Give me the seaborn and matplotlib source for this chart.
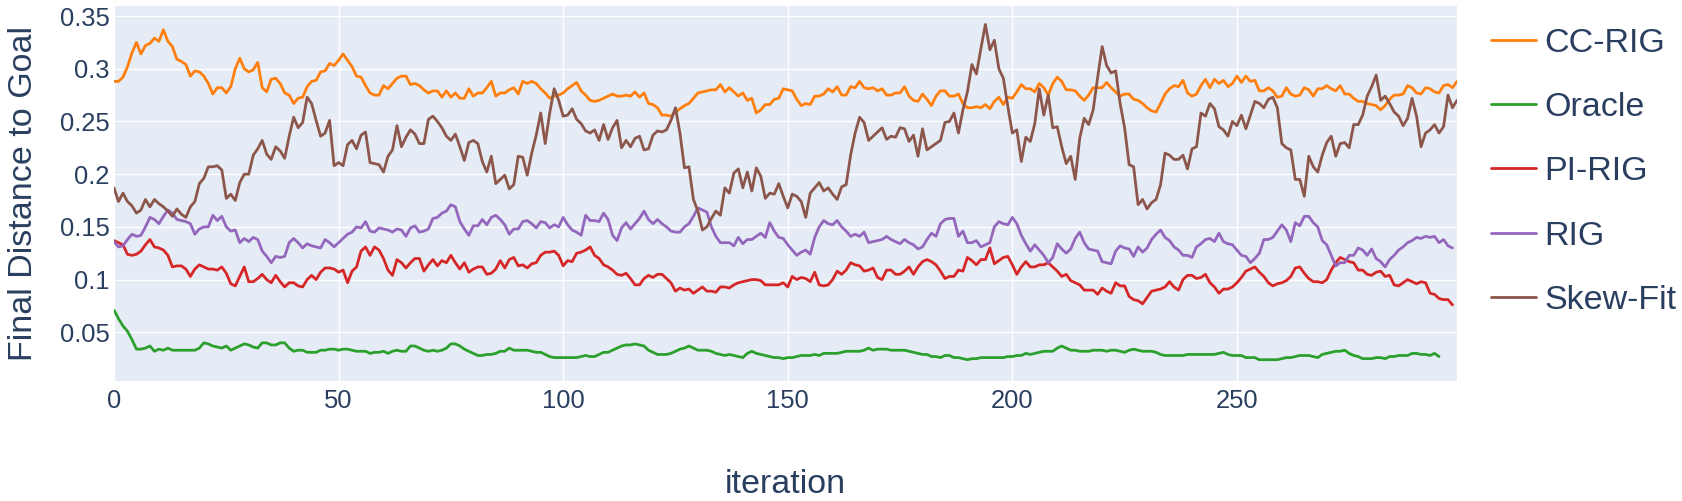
import matplotlib
matplotlib.use("Agg")
import matplotlib.pyplot as plt
import seaborn as sns
import pandas as pd
import numpy as np

# ---------------- data ----------------
cc_rig = [
    0.288,0.288,0.292,0.302,0.315,0.325,0.314,0.322,0.324,0.329,
    0.326,0.337,0.326,0.321,0.309,0.307,0.304,0.293,0.298,0.297,
    0.293,0.286,0.276,0.282,0.282,0.277,0.283,0.300,0.310,0.300,
    0.297,0.299,0.306,0.282,0.278,0.290,0.291,0.286,0.277,0.275,
    0.267,0.272,0.273,0.283,0.288,
    0.289,0.297,0.298,0.305,0.303,0.308,0.314,0.308,0.302,0.293,
    0.292,0.284,0.277,0.275,0.275,0.284,0.281,0.286,0.291,0.293,
    0.293,0.285,0.286,0.284,0.280,0.277,0.279,0.279,0.273,0.279,
    0.273,0.277,0.272,0.272,0.281,0.274,0.277,0.277,0.282,0.288,
    0.274,0.277,0.277,0.280,0.282,0.276,
    0.288,0.286,0.288,0.286,0.281,0.277,0.272,0.274,0.275,0.277,
    0.281,0.284,0.287,0.279,0.275,0.270,0.269,0.270,0.272,0.274,
    0.276,0.274,0.274,0.275,0.274,0.278,0.273,0.277,0.267,0.266,
    0.263,0.256,0.256,0.255,0.259,0.262,0.265,0.267,0.272,0.277,
    0.278,0.279,0.280,0.280,0.285,0.278,
    0.282,0.278,0.274,0.277,0.270,0.272,0.258,0.261,0.266,0.266,
    0.271,0.272,0.281,0.280,0.279,0.271,0.265,0.267,0.266,0.274,
    0.274,0.276,0.281,0.278,0.283,0.275,0.275,0.283,0.282,0.288,
    0.282,0.281,0.282,0.279,0.281,0.275,0.275,0.277,0.277,0.283,
    0.274,0.270,0.269,0.276,0.271,
    0.265,0.274,0.279,0.279,0.274,0.274,0.276,0.267,0.263,0.263,
    0.264,0.263,0.266,0.262,0.269,0.273,0.266,0.273,0.272,0.278,
    0.285,0.281,0.281,0.278,0.286,0.282,0.275,0.286,0.292,0.288,
    0.280,0.280,0.279,0.274,0.270,0.275,0.282,0.282,0.282,0.287,
    0.282,0.278,0.274,0.276,0.276,
    0.271,0.270,0.267,0.263,0.260,0.259,0.267,0.276,0.281,0.284,
    0.283,0.289,0.277,0.274,0.276,0.284,0.290,0.282,0.290,0.286,
    0.289,0.283,0.286,0.293,0.287,0.293,0.288,0.289,0.279,0.279,
    0.282,0.279,0.273,0.274,0.282,0.276,0.274,0.275,0.282,0.280,
    0.274,0.281,0.281,0.284,0.281,0.279,0.284,0.276,0.276,0.272,
    0.269,
    0.269,0.267,0.266,0.265,0.261,0.265,0.271,0.275,0.275,0.276,
    0.284,0.282,0.277,0.276,0.282,0.281,0.278,0.277,0.284,0.285,
    0.282,0.288,
]

oracle = [
    0.071,0.063,0.056,0.051,0.043,0.034,0.034,0.035,0.037,0.032,
    0.034,0.033,0.035,0.033,0.033,0.033,0.033,0.033,0.033,0.035,
    0.040,0.039,0.037,0.036,0.035,0.037,0.033,0.035,0.037,0.039,
    0.038,0.036,0.035,0.040,0.040,0.038,0.038,0.040,0.040,0.035,
    0.032,0.033,0.033,0.031,0.031,
    0.031,0.033,0.033,0.034,0.034,0.033,0.034,0.034,0.033,0.032,
    0.032,0.032,0.030,0.031,0.031,0.032,0.030,0.032,0.033,0.032,
    0.032,0.037,0.037,0.035,0.033,0.032,0.033,0.032,0.033,0.035,
    0.039,0.039,0.037,0.034,0.032,0.030,0.028,0.028,0.029,0.029,
    0.030,0.032,0.032,0.035,0.033,0.033,
    0.033,0.033,0.032,0.031,0.031,0.029,0.027,0.026,0.026,0.026,
    0.026,0.026,0.026,0.027,0.028,0.027,0.027,0.029,0.031,0.031,
    0.033,0.035,0.037,0.038,0.038,0.039,0.038,0.037,0.033,0.031,
    0.029,0.029,0.029,0.030,0.032,0.034,0.035,0.037,0.035,0.033,
    0.033,0.033,0.032,0.030,0.029,0.028,
    0.029,0.028,0.027,0.026,0.030,0.032,0.030,0.029,0.028,0.027,
    0.026,0.026,0.025,0.026,0.026,0.027,0.028,0.028,0.028,0.029,
    0.028,0.030,0.030,0.030,0.030,0.031,0.032,0.032,0.032,0.032,
    0.033,0.035,0.033,0.034,0.034,0.034,0.033,0.033,0.033,0.033,
    0.032,0.031,0.030,0.029,0.029,
    0.027,0.027,0.026,0.028,0.028,0.026,0.026,0.025,0.024,0.025,
    0.025,0.026,0.026,0.026,0.026,0.026,0.026,0.027,0.027,0.028,
    0.028,0.030,0.029,0.030,0.031,0.032,0.032,0.032,0.035,0.037,
    0.035,0.033,0.033,0.032,0.032,0.032,0.033,0.033,0.033,0.032,
    0.033,0.033,0.032,0.031,0.033,
    0.034,0.033,0.032,0.032,0.032,0.031,0.029,0.028,0.028,0.028,
    0.028,0.028,0.029,0.029,0.029,0.029,0.029,0.029,0.029,0.030,
    0.031,0.029,0.028,0.028,0.028,0.026,0.026,0.026,0.024,0.024,
    0.024,0.024,0.024,0.025,0.026,0.026,0.027,0.028,0.028,0.028,
    0.027,0.026,0.029,0.030,0.031,0.032,0.032,0.033,0.030,0.028,
    0.027,
    0.025,0.025,0.025,0.026,0.026,0.025,0.027,0.027,0.028,0.028,
    0.028,0.030,0.030,0.029,0.029,0.028,0.030,0.027,
]

pi_rig = [
    0.137,0.135,0.133,0.124,0.123,0.124,0.127,0.133,0.138,0.131,
    0.130,0.128,0.123,0.112,0.113,0.113,0.110,0.103,0.110,0.114,
    0.112,0.110,0.110,0.109,0.112,0.106,0.096,0.094,0.103,0.112,
    0.098,0.098,0.101,0.105,0.100,0.097,0.104,0.098,0.093,0.097,
    0.097,0.094,0.093,0.100,0.104,
    0.100,0.107,0.111,0.111,0.110,0.107,0.109,0.097,0.108,0.112,
    0.127,0.131,0.123,0.131,0.128,0.120,0.109,0.104,0.119,0.116,
    0.111,0.116,0.120,0.120,0.108,0.114,0.119,0.113,0.118,0.116,
    0.123,0.116,0.110,0.116,0.107,0.110,0.112,0.112,0.105,0.106,
    0.110,0.118,0.111,0.119,0.121,0.113,
    0.114,0.111,0.115,0.116,0.123,0.126,0.126,0.127,0.123,0.113,
    0.118,0.117,0.125,0.126,0.128,0.131,0.123,0.120,0.114,0.112,
    0.109,0.105,0.104,0.106,0.101,0.095,0.095,0.101,0.104,0.102,
    0.105,0.105,0.101,0.097,0.089,0.092,0.090,0.091,0.087,0.090,
    0.093,0.089,0.089,0.088,0.093,0.093,
    0.092,0.095,0.097,0.098,0.099,0.100,0.100,0.099,0.095,0.095,
    0.095,0.095,0.097,0.093,0.103,0.100,0.102,0.101,0.098,0.107,
    0.095,0.094,0.095,0.100,0.108,0.105,0.109,0.116,0.114,0.113,
    0.108,0.109,0.111,0.102,0.100,0.109,0.109,0.105,0.105,0.108,
    0.112,0.105,0.112,0.117,0.119,
    0.117,0.114,0.108,0.101,0.103,0.103,0.109,0.108,0.121,0.118,
    0.114,0.119,0.119,0.130,0.115,0.118,0.121,0.122,0.114,0.105,
    0.112,0.117,0.112,0.112,0.114,0.114,0.116,0.112,0.108,0.103,
    0.105,0.099,0.097,0.095,0.090,0.090,0.090,0.086,0.092,0.089,
    0.087,0.097,0.094,0.094,0.084,
    0.081,0.080,0.077,0.083,0.089,0.090,0.091,0.093,0.098,0.093,
    0.090,0.100,0.104,0.104,0.101,0.102,0.105,0.097,0.093,0.087,
    0.091,0.091,0.093,0.097,0.102,0.108,0.110,0.112,0.107,0.103,
    0.097,0.094,0.096,0.097,0.099,0.103,0.111,0.112,0.106,0.101,
    0.098,0.098,0.097,0.100,0.109,0.116,0.121,0.119,0.117,0.116,
    0.109,
    0.109,0.105,0.104,0.107,0.108,0.103,0.104,0.095,0.094,0.097,
    0.100,0.098,0.096,0.098,0.097,0.087,0.086,0.082,0.081,0.081,
    0.076,
]

rig = [
    0.136,0.131,0.132,0.138,0.143,0.141,0.142,0.150,0.159,0.157,
    0.153,0.160,0.166,0.163,0.157,0.156,0.155,0.153,0.143,0.148,
    0.150,0.150,0.161,0.156,0.160,0.150,0.146,0.147,0.135,0.139,
    0.136,0.140,0.138,0.127,0.122,0.116,0.122,0.121,0.122,0.135,
    0.139,0.135,0.130,0.134,0.132,
    0.131,0.130,0.138,0.135,0.131,0.135,0.139,0.143,0.145,0.150,
    0.149,0.155,0.146,0.145,0.149,0.148,0.147,0.145,0.148,0.147,
    0.141,0.149,0.151,0.145,0.146,0.148,0.158,0.159,0.163,0.165,
    0.171,0.169,0.155,0.148,0.142,0.151,0.151,0.157,0.152,0.159,
    0.161,0.157,0.152,0.143,0.148,0.148,
    0.155,0.156,0.153,0.149,0.155,0.154,0.149,0.152,0.150,0.159,
    0.152,0.147,0.145,0.142,0.161,0.156,0.156,0.155,0.163,0.157,
    0.142,0.137,0.149,0.154,0.148,0.153,0.158,0.165,0.157,0.153,
    0.157,0.153,0.150,0.146,0.145,0.145,0.150,0.153,0.160,0.168,
    0.166,0.164,0.150,0.141,0.135,0.135,
    0.135,0.132,0.140,0.134,0.138,0.138,0.141,0.144,0.140,0.154,
    0.146,0.140,0.139,0.133,0.128,0.123,0.126,0.128,0.124,0.140,
    0.150,0.156,0.153,0.152,0.156,0.150,0.146,0.141,0.143,0.141,
    0.145,0.135,0.136,0.137,0.138,0.141,0.138,0.136,0.134,0.138,
    0.135,0.133,0.129,0.131,0.138,
    0.144,0.141,0.153,0.157,0.158,0.158,0.141,0.146,0.135,0.135,
    0.137,0.131,0.133,0.135,0.150,0.155,0.153,0.152,0.159,0.153,
    0.142,0.134,0.127,0.133,0.128,0.123,0.116,0.121,0.134,0.129,
    0.125,0.129,0.139,0.145,0.135,0.129,0.128,0.127,0.117,0.116,
    0.115,0.127,0.132,0.130,0.129,
    0.122,0.131,0.126,0.130,0.138,0.143,0.147,0.140,0.137,0.131,
    0.128,0.123,0.123,0.121,0.131,0.134,0.138,0.139,0.136,0.144,
    0.136,0.134,0.133,0.128,0.123,0.122,0.116,0.120,0.125,0.138,
    0.138,0.140,0.146,0.152,0.147,0.136,0.154,0.151,0.160,0.160,
    0.154,0.150,0.137,0.133,0.123,0.113,0.116,0.116,0.123,0.123,
    0.130,
    0.128,0.123,0.129,0.120,0.117,0.112,0.119,0.123,0.128,0.131,
    0.135,0.137,0.140,0.139,0.141,0.140,0.141,0.135,0.138,0.132,
    0.130,
]

skew_fit = [
    0.187,0.174,0.182,0.174,0.170,0.163,0.166,0.176,0.169,0.176,
    0.172,0.169,0.165,0.160,0.167,0.162,0.159,0.169,0.174,0.191,
    0.196,0.207,0.207,0.208,0.204,0.177,0.181,0.175,0.192,0.200,
    0.200,0.218,0.224,0.232,0.219,0.214,0.226,0.222,0.215,0.236,
    0.254,0.244,0.249,0.273,0.267,
    0.251,0.236,0.239,0.251,0.208,0.211,0.208,0.228,0.232,0.224,
    0.237,0.240,0.211,0.210,0.209,0.202,0.217,0.223,0.246,0.226,
    0.235,0.242,0.238,0.229,0.229,0.252,0.255,0.250,0.244,0.236,
    0.232,0.238,0.226,0.213,0.230,0.232,0.229,0.212,0.202,0.217,
    0.191,0.195,0.199,0.186,0.190,0.217,
    0.216,0.199,0.220,0.237,0.258,0.229,0.258,0.281,0.270,0.255,
    0.256,0.262,0.252,0.248,0.241,0.239,0.242,0.232,0.247,0.233,
    0.244,0.251,0.225,0.232,0.226,0.234,0.236,0.223,0.224,0.237,
    0.241,0.240,0.242,0.251,0.263,0.239,0.206,0.207,0.176,0.165,
    0.147,0.150,0.158,0.165,0.161,0.187,
    0.182,0.201,0.205,0.187,0.202,0.184,0.206,0.198,0.177,0.182,
    0.181,0.191,0.179,0.168,0.181,0.179,0.174,0.159,0.182,0.187,
    0.192,0.184,0.187,0.181,0.176,0.188,0.190,0.218,0.239,0.254,
    0.249,0.232,0.236,0.240,0.244,0.233,0.236,0.235,0.244,0.243,
    0.231,0.237,0.217,0.243,0.223,
    0.226,0.229,0.232,0.249,0.250,0.258,0.239,0.261,0.278,0.304,
    0.295,0.319,0.342,0.318,0.327,0.300,0.291,0.264,0.239,0.242,
    0.212,0.235,0.231,0.248,0.281,0.256,0.275,0.244,0.245,0.226,
    0.210,0.217,0.195,0.234,0.253,0.247,0.261,0.292,0.321,0.303,
    0.296,0.298,0.267,0.244,0.209,
    0.207,0.171,0.176,0.167,0.173,0.176,0.190,0.220,0.218,0.214,
    0.214,0.218,0.205,0.224,0.226,0.258,0.255,0.267,0.262,0.245,
    0.242,0.236,0.250,0.246,0.256,0.243,0.256,0.269,0.267,0.263,
    0.271,0.273,0.263,0.229,0.225,0.223,0.195,0.195,0.179,0.217,
    0.207,0.202,0.218,0.230,0.236,0.217,0.229,0.230,0.225,0.247,
    0.247,
    0.256,0.274,0.283,0.294,0.270,0.274,0.267,0.259,0.255,0.246,
    0.253,0.272,0.255,0.226,0.239,0.242,0.247,0.239,0.245,0.275,
    0.263,0.270,
]

series_names = ["CC-RIG", "Oracle", "PI-RIG", "RIG", "Skew-Fit"]
series_values = [cc_rig, oracle, pi_rig, rig, skew_fit]
series_colors = ["#ff7f0e", "#2ca02c", "#d62728", "#9467bd", "#8c564b"]

x_ticks = [0, 50, 100, 150, 200, 250]
x_tick_labels = ["0", "50", "100", "150", "200", "250"]
y_ticks = [0.05, 0.10, 0.15, 0.20, 0.25, 0.30, 0.35]
y_tick_labels = ["0.05", "0.1", "0.15", "0.2", "0.25", "0.3", "0.35"]

# ---------------- figure ----------------
W, H, DPI = 1683, 501, 100
TEXT = "#2a3f5f"
sns.set_style("white")
plt.rcParams["font.family"] = ["Liberation Sans", "DejaVu Sans"]

fig = plt.figure(figsize=(W / DPI, H / DPI), dpi=DPI)
L, R, T, B = 114, 1457, 6, 381
ax = fig.add_axes([L / W, 1 - B / H, (R - L) / W, (B - T) / H])
ax.set_facecolor("#E5ECF6")

frames = []
for name, vals in zip(series_names, series_values):
    frames.append(pd.DataFrame({"iteration": np.arange(len(vals)),
                                "value": vals, "method": name}))
df = pd.concat(frames, ignore_index=True)

for name, color in zip(series_names, series_colors):
    sub = df[df["method"] == name]
    sns.lineplot(data=sub, x="iteration", y="value", color=color,
                 linewidth=2.0, label=name, ax=ax, errorbar=None)

ax.set_xlim(0, 299)
ax.set_ylim(0.0038, 0.3595)
ax.set_xticks(x_ticks)
ax.set_xticklabels(x_tick_labels)
ax.set_yticks(y_ticks)
ax.set_yticklabels(y_tick_labels)
ax.grid(True, color="white", linewidth=1.0)
ax.set_axisbelow(True)
for s in ax.spines.values():
    s.set_visible(False)
ax.tick_params(axis="both", length=0, labelsize=18.4, colors=TEXT)
ax.tick_params(axis="x", pad=6)
ax.tick_params(axis="y", pad=3)

ax.set_xlabel("iteration", fontsize=24.5, color=TEXT, labelpad=40)
ax.set_ylabel("Final Distance to Goal", fontsize=24.5, color=TEXT, labelpad=15)

ax.legend(loc="upper left", bbox_to_anchor=(1491 / W, 1 - 27.5 / H),
          bbox_transform=fig.transFigure, frameon=False, fontsize=24.5,
          handlelength=1.31, handletextpad=0.25, labelspacing=0.98,
          borderpad=0, borderaxespad=0, labelcolor=TEXT)

fig.savefig("out.png", dpi=DPI)
